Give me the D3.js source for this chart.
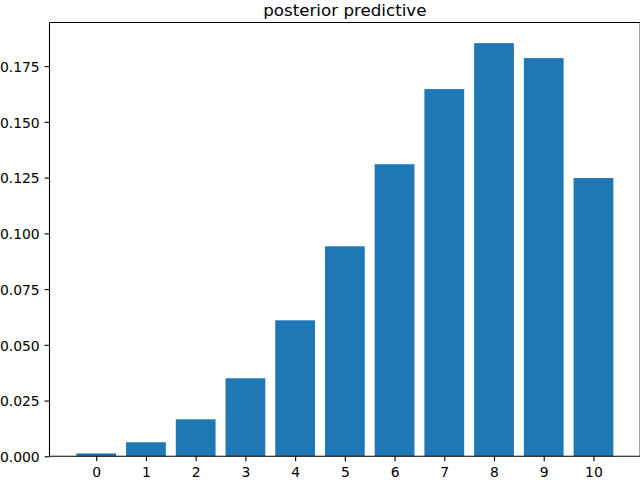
<!DOCTYPE html>
<html>
<head>
<meta charset="utf-8">
<script src="https://cdn.jsdelivr.net/npm/d3@7"></script>
<style>
  html, body { margin: 0; padding: 0; background: #fff; }
  svg { display: block; font-family: "DejaVu Sans", sans-serif; }
</style>
</head>
<body>
<svg id="chart" width="640" height="480"></svg>
<script>
const categories = [0, 1, 2, 3, 4, 5, 6, 7, 8, 9, 10];
const probabilities = [0.0013, 0.0063, 0.0166, 0.0350, 0.0610, 0.0942, 0.1310, 0.1647, 0.1853, 0.1786, 0.1248];
const yTicks = [0, 0.025, 0.05, 0.075, 0.1, 0.125, 0.15, 0.175];
const chartTitle = "posterior predictive";

(function () {
const svg = d3.select("#chart");
const padLeft = 49.5, padRight = 640.2, padTop = 22.5, padBottom = 456.3;
const barWidth = 0.8;

const xMin = -barWidth / 2, xMax = categories.length - 1 + barWidth / 2;
const xMargin = (xMax - xMin) * 0.05;
const x = d3.scaleLinear().domain([xMin - xMargin, xMax + xMargin]).range([padLeft, padRight]);
const yMax = d3.max(probabilities) * 1.05;
const y = d3.scaleLinear().domain([0, yMax]).range([padBottom, padTop]);

// bars
svg.append("g").selectAll("rect").data(categories).join("rect")
  .attr("x", d => x(d - barWidth / 2))
  .attr("width", d => x(d + barWidth / 2) - x(d - barWidth / 2))
  .attr("y", (d, i) => y(probabilities[i]))
  .attr("height", (d, i) => y(0) - y(probabilities[i]))
  .attr("fill", "#1f77b4");

// axes
const xAxis = d3.axisBottom(x).tickValues(categories).tickFormat(d3.format("d"))
  .tickSize(4.9).tickPadding(4.9).tickSizeOuter(0);
const gx = svg.append("g").attr("transform", `translate(0,${padBottom})`).call(xAxis);
gx.select(".domain").remove();
gx.selectAll("line").attr("stroke", "#000").attr("stroke-width", 1.1);
gx.selectAll("text").attr("font-size", "13.9px").attr("fill", "#000")
  .attr("font-family", "DejaVu Sans").attr("dy", null).attr("y", 20.4);

const yAxis = d3.axisLeft(y).tickValues(yTicks).tickFormat(d3.format(".3f"))
  .tickSize(4.9).tickPadding(4.9).tickSizeOuter(0);
const gy = svg.append("g").attr("transform", `translate(${padLeft},0)`).call(yAxis);
gy.select(".domain").remove();
gy.selectAll("line").attr("stroke", "#000").attr("stroke-width", 1.1);
gy.selectAll("text").attr("font-size", "13.9px").attr("fill", "#000")
  .attr("font-family", "DejaVu Sans").attr("dy", null).attr("y", 5.2);

// spines
const spine = svg.append("g").attr("stroke", "#000").attr("stroke-width", 1.1).attr("fill", "none");
spine.append("line").attr("x1", padLeft).attr("x2", padLeft).attr("y1", padTop).attr("y2", padBottom);
spine.append("line").attr("x1", padLeft).attr("x2", padRight).attr("y1", padBottom).attr("y2", padBottom);
spine.append("line").attr("x1", padLeft).attr("x2", padRight).attr("y1", padTop).attr("y2", padTop);
spine.append("line").attr("x1", padRight).attr("x2", padRight).attr("y1", padTop).attr("y2", padBottom);

// title
svg.append("text").attr("x", (padLeft + padRight) / 2).attr("y", 16.2)
  .attr("text-anchor", "middle").attr("font-size", "16.7px").attr("fill", "#000")
  .text(chartTitle);
})();
</script>
</body>
</html>
